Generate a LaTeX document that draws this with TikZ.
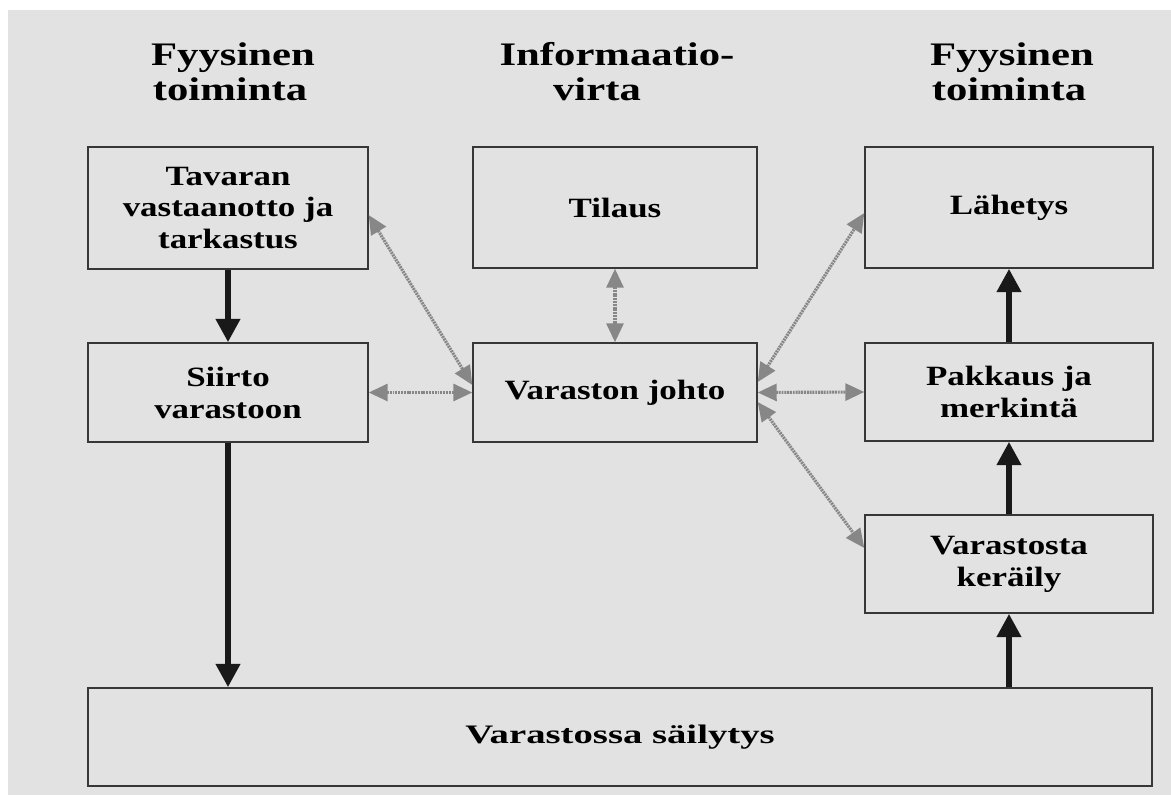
\documentclass[tikz,border=0pt]{standalone}
\usepackage{fontspec}
\setmainfont{Liberation Serif}[FakeStretch=1.25]
\newfontfamily\headfont{Liberation Serif}[FakeStretch=1.3]
\newfontfamily\storefont{Liberation Serif}[FakeStretch=1.45]
\usetikzlibrary{arrows.meta}
\definecolor{paper}{RGB}{226,226,226}
\definecolor{frame}{RGB}{55,55,55}
\definecolor{infogray}{RGB}{135,135,135}
\tikzset{
  box/.style={draw=frame, line width=0.85pt, align=center, inner sep=2pt,
    font=\bfseries\fontsize{15.9}{18.2}\selectfont},
  head/.style={font=\headfont\bfseries\fontsize{18.7}{20}\selectfont,
    anchor=base, inner sep=0pt},
  flow/.style={line width=3.4pt, color=black!90,
    -{Triangle[length=0.47cm,width=0.47cm]}},
  info/.style={line width=1.8pt, color=infogray, dash pattern=on 1.1pt off 0.5pt,
    {Triangle[length=0.38cm,width=0.34cm]}-{Triangle[length=0.38cm,width=0.34cm]}},
}
\begin{document}
\begin{tikzpicture}[x=0.02cm,y=-0.02cm]
  \useasboundingbox (0,0) rectangle (1171,795);
  \fill[paper] (8,10) rectangle (1171,795);

  % column headings
  \node[head] (hl1) at (233,65)  {Fyysinen};
  \node[head] (hl2) at (230,100) {toiminta};
  \node[head] (hm1) at (617,65)  {Informaatio-};
  \node[head] (hm2) at (597,100) {virta};
  \node[head] (hr1) at (1012,65) {Fyysinen};
  \node[head] (hr2) at (1009,100) {toiminta};

  % process boxes
  \node[box, minimum width=5.6cm,  minimum height=2.44cm] (recv)  at (228,208)   {Tavaran\\vastaanotto ja\\tarkastus};
  \node[box, minimum width=5.68cm, minimum height=2.42cm] (order) at (615,207.5) {Tilaus};
  \node[box, minimum width=5.76cm, minimum height=2.42cm] (ship)  at (1009,207.5) {Lähetys};
  \node[box, minimum width=5.6cm,  minimum height=1.98cm] (move)  at (228,392.5) {Siirto\\varastoon};
  \node[box, minimum width=5.68cm, minimum height=1.98cm] (mgmt)  at (615,392.5) {Varaston johto};
  \node[box, minimum width=5.76cm, minimum height=1.96cm] (pack)  at (1009,392)  {Pakkaus ja\\merkintä};
  \node[box, minimum width=5.76cm, minimum height=1.96cm] (pick)  at (1009,564)  {Varastosta\\keräily};
  \node[box, minimum width=21.28cm, minimum height=1.96cm,
        font=\storefont\bfseries\fontsize{15.2}{18}\selectfont] (store) at (620,737) {Varastossa säilytys};

  % physical flow
  \draw[flow] (recv.south) -- (move.north);
  \draw[flow] (move.south) -- (move.south |- store.north);
  \draw[flow] (pick.south |- store.north) -- (pick.south);
  \draw[flow] (pick.north) -- (pack.south);
  \draw[flow] (pack.north) -- (ship.south);

  % information flow
  \draw[info] (order.south) -- (mgmt.north);
  \draw[info] (move.east) -- (mgmt.west);
  \draw[info] (mgmt.east) -- (pack.west);
  \draw[info] ([yshift=-0.14cm]recv.east) -- ([yshift=0.15cm]mgmt.west);
  \draw[info] ([yshift=0.21cm]mgmt.east) -- ([yshift=-0.11cm]ship.west);
  \draw[info] ([yshift=-0.19cm]mgmt.east) -- ([yshift=0.32cm]pick.west);
\end{tikzpicture}
\end{document}
